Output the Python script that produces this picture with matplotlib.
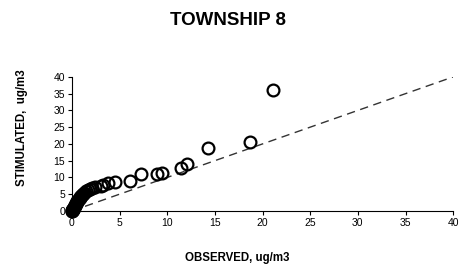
import numpy as np
import matplotlib
matplotlib.use('Agg')
from matplotlib import pyplot as plt

plt.rcParams['font.family'] = ['Liberation Sans', 'DejaVu Sans']

# observed vs simulated concentrations
observed = [0.0, 0.02, 0.05, 0.08, 0.1, 0.15, 0.2, 0.25, 0.3, 0.35, 0.4, 0.45, 0.5,
            0.55, 0.6, 0.7, 0.8, 0.9, 1.0, 1.1, 1.2, 1.3, 1.5, 1.7, 1.9, 2.1, 2.4,
            3.0, 3.3, 3.8, 4.5, 6.1, 7.3, 8.9, 9.5, 11.4, 12.05, 14.3, 18.7, 21.1]
simulated = [0.0, 0.1, 0.2, 0.3, 0.5, 0.7, 0.9, 1.1, 1.4, 1.7, 2.0, 2.3, 2.6,
             2.9, 3.2, 3.6, 4.0, 4.3, 4.6, 4.9, 5.2, 5.5, 5.8, 6.1, 6.4, 6.7, 7.0,
             7.3, 7.8, 8.3, 8.6, 9.0, 11.0, 11.0, 11.4, 12.7, 13.9, 18.7, 20.5, 36.0]
one_to_one = [0, 40]
xticks = [0, 5, 10, 15, 20, 25, 30, 35, 40]
yticks = [0, 5, 10, 15, 20, 25, 30, 35, 40]

fig = plt.figure(figsize=(4.61, 2.67), dpi=100)
ax = fig.add_axes([0.156, 0.21, 0.827, 0.502])

ax.plot(one_to_one, one_to_one, color='#333333', linestyle=(0, (6, 4)), linewidth=1.0)
ax.plot(observed, simulated, linestyle='none', marker='o', markersize=8.5,
        markerfacecolor='none', markeredgecolor='black', markeredgewidth=1.6,
        clip_on=False)

ax.set_xlim(0, 40)
ax.set_ylim(0, 40)
ax.set_xticks(xticks)
ax.set_yticks(yticks)
ax.tick_params(labelsize=7.5, length=3, width=0.8, pad=2)
for s in ['top', 'right']:
    ax.spines[s].set_visible(False)
for s in ['left', 'bottom']:
    ax.spines[s].set_linewidth(0.8)

ax.set_xlabel('OBSERVED, ug/m3', fontsize=8.3, fontweight='bold')
ax.xaxis.set_label_coords(0.433, -0.308)
ax.set_ylabel('STIMULATED,  ug/m3', fontsize=8.3, fontweight='bold')
ax.yaxis.set_label_coords(-0.114, 0.62)
fig.text(0.495, 0.925, 'TOWNSHIP 8', fontsize=13.5, fontweight='bold',
         ha='center', va='center')

fig.savefig('out.png', dpi=100)
